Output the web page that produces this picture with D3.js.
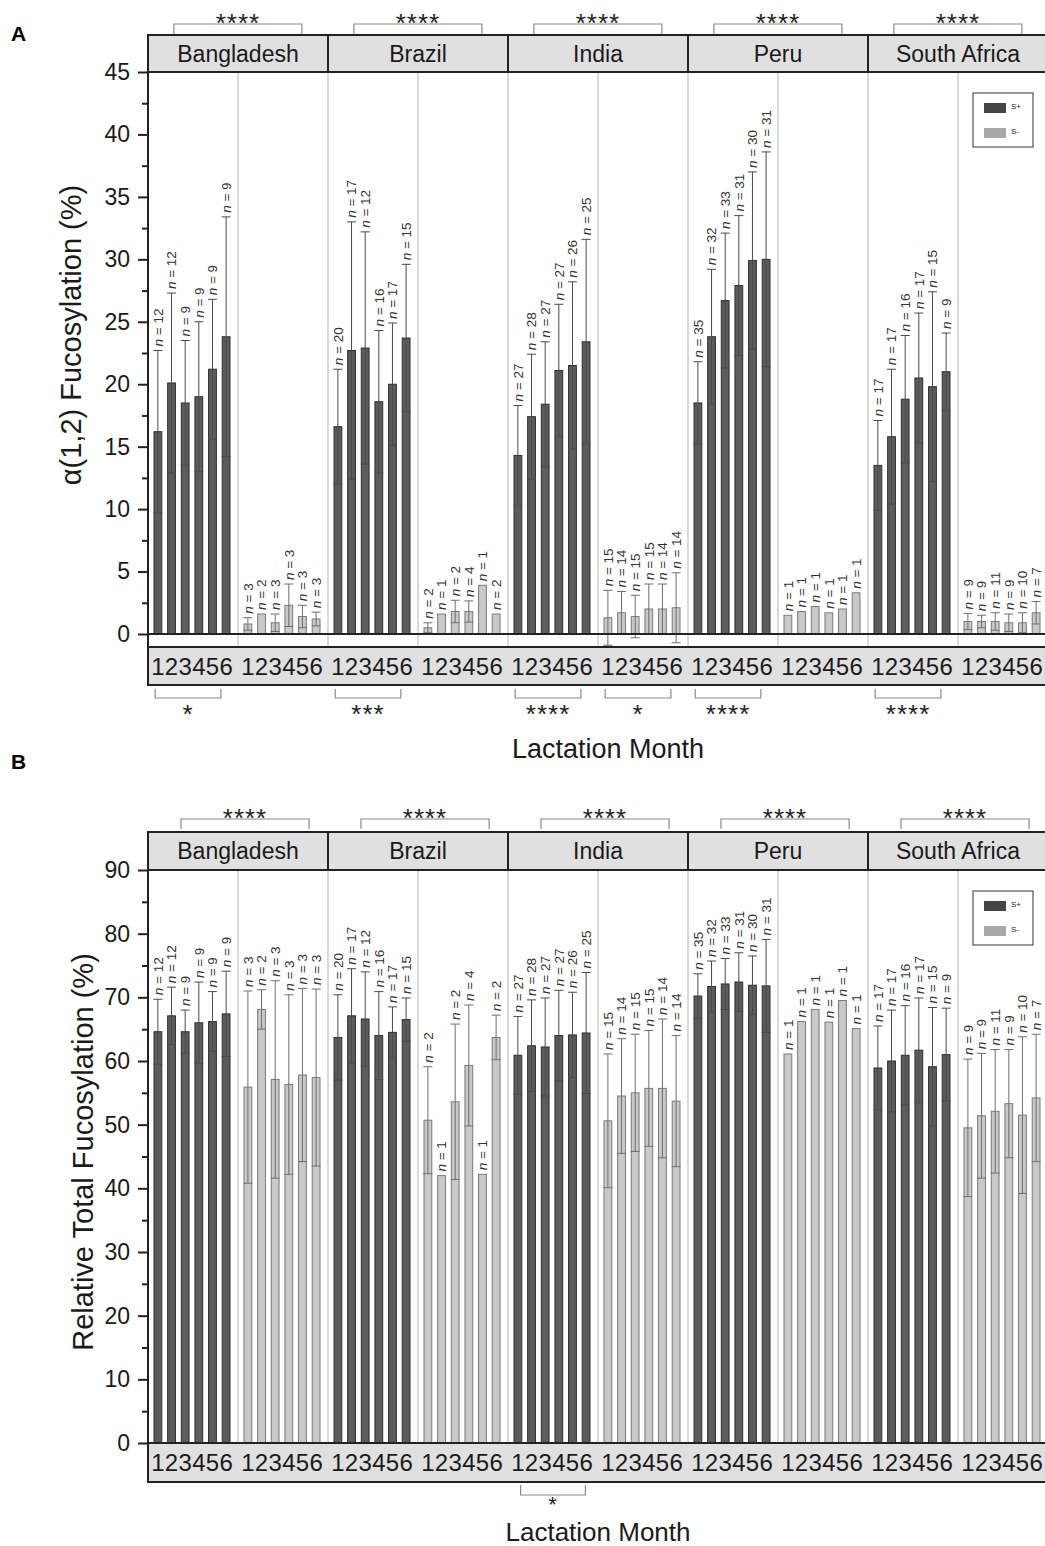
<!DOCTYPE html>
<html>
<head>
<meta charset="utf-8">
<script src="https://cdn.jsdelivr.net/npm/d3@7"></script>
<style>
  body { margin: 0; background: #fff; }
  svg { font-family: "Liberation Sans", Arial, sans-serif; display: block; }
</style>
</head>
<body>
<svg id="chart" width="1045" height="1546"></svg>
<script>
// categories
const countries = ["Bangladesh", "Brazil", "India", "Peru", "South Africa"];
const groups = ["S+", "S-"];
const months = ["1", "2", "3", "4", "5", "6"];

// sample sizes per country (rows) and lactation month (cols), same in both panels
const nPos = [[12, 12, 9, 9, 9, 9], [20, 17, 12, 16, 17, 15], [27, 28, 27, 27, 26, 25], [35, 32, 33, 31, 30, 31], [17, 17, 16, 17, 15, 9]];
const nNeg = [[3, 2, 3, 3, 3, 3], [2, 1, 2, 4, 1, 2], [15, 14, 15, 15, 14, 14], [1, 1, 1, 1, 1, 1], [9, 9, 11, 9, 10, 7]];

// panel A: alpha(1,2) fucosylation (%), mean and SD
const a12PosMean = [[16.2, 20.1, 18.5, 19.0, 21.2, 23.8], [16.6, 22.7, 22.9, 18.6, 20.0, 23.7], [14.3, 17.4, 18.4, 21.1, 21.5, 23.4], [18.5, 23.8, 26.7, 27.9, 29.9, 30.0], [13.5, 15.8, 18.8, 20.5, 19.8, 21.0]];
const a12PosSd = [[6.5, 7.2, 5.0, 6.0, 5.6, 9.6], [4.6, 10.3, 9.3, 5.7, 4.9, 5.9], [4.0, 5.0, 5.0, 5.3, 6.7, 8.2], [3.3, 5.4, 5.4, 5.6, 7.1, 8.6], [3.6, 5.4, 5.1, 5.2, 7.6, 3.1]];
const a12NegMean = [[0.8, 1.6, 0.9, 2.3, 1.4, 1.2], [0.5, 1.6, 1.8, 1.8, 3.9, 1.6], [1.3, 1.7, 1.4, 2.0, 2.0, 2.1], [1.5, 1.8, 2.2, 1.7, 2.0, 3.3], [1.0, 1.0, 1.0, 0.9, 0.9, 1.7]];
const a12NegSd = [[0.5, 0, 0.7, 1.7, 0.9, 0.55], [0.4, 0, 0.9, 0.85, 0, 0], [2.2, 1.7, 1.7, 2.0, 2.0, 2.8], [0, 0, 0, 0, 0, 0], [0.65, 0.5, 0.7, 0.7, 0.8, 0.9]];

// panel B: relative total fucosylation (%), mean and SD
const totPosMean = [[64.6, 67.1, 64.6, 66.0, 66.2, 67.4], [63.7, 67.1, 66.6, 64.0, 64.5, 66.5], [60.9, 62.4, 62.2, 64.0, 64.1, 64.4], [70.2, 71.7, 72.1, 72.4, 71.9, 71.8], [58.9, 60.0, 60.9, 61.7, 59.1, 61.0]];
const totPosSd = [[5.1, 4.5, 3.4, 6.4, 4.7, 6.7], [6.7, 7.4, 7.4, 6.9, 4.0, 3.4], [6.1, 7.2, 7.7, 7.1, 6.7, 9.5], [3.5, 4.0, 4.0, 4.6, 4.6, 7.3], [6.6, 8.0, 7.8, 8.2, 9.3, 7.3]];
const totNegMean = [[55.9, 68.1, 57.1, 56.3, 57.8, 57.4], [50.7, 42.0, 53.6, 59.3, 42.2, 63.7], [50.6, 54.5, 55.0, 55.7, 55.7, 53.7], [61.1, 66.2, 68.1, 66.1, 69.5, 65.1], [49.5, 51.4, 52.1, 53.3, 51.5, 54.2]];
const totNegSd = [[15.1, 3.1, 15.5, 14.1, 13.6, 13.9], [8.4, 0, 12.2, 9.5, 0, 3.5], [10.5, 9.0, 9.2, 9.1, 10.9, 10.3], [0, 0, 0, 0, 0, 0], [10.8, 9.8, 9.7, 8.5, 12.3, 10.0]];

// significance: S+ vs S- per country (top), trend over months (bottom)
const a12TopStars = ["****", "****", "****", "****", "****"];
const a12TrendCountry = ["Bangladesh", "Brazil", "India", "India", "Peru", "South Africa"];
const a12TrendGroup = ["S+", "S+", "S+", "S-", "S+", "S+"];
const a12TrendStars = ["*", "***", "****", "*", "****", "****"];
const totTopStars = ["****", "****", "****", "****", "****"];
const totTrendCountry = ["India"];
const totTrendGroup = ["S+"];
const totTrendStars = ["*"];

const svg = d3.select("#chart");
const dark = "#222";
const colors = { "S+": "#5c5c5c", "S-": "#c9c9c9" };
const strokes = { "S+": "#2e2e2e", "S-": "#7a7a7a" };
const errColors = { "S+": "#4a4a4a", "S-": "#6e6e6e" };

// x scales shared by both panels
const xCountry = d3.scaleBand().domain(countries).range([148, 1048]);
const xGroup = d3.scaleBand().domain(groups).range([0, xCountry.bandwidth()]);
const xMonth = d3.scaleBand().domain(months).range([6, 82]).paddingInner(0.43).paddingOuter(0);

function drawPanel(p) {
  const g = svg.append("g");
  const y = d3.scaleLinear().domain([0, p.yMax]).range([p.zeroY, p.plotTop]);
  const x0 = xCountry.range()[0], x1 = xCountry.range()[1];

  const series = [
    { group: "S+", mean: p.posMean, sd: p.posSd, n: nPos },
    { group: "S-", mean: p.negMean, sd: p.negSd, n: nNeg }
  ];
  const rows = [];
  countries.forEach((c, ci) => series.forEach(s => months.forEach((m, mi) => {
    rows.push({ country: c, group: s.group, month: m, mean: s.mean[ci][mi], sd: s.sd[ci][mi], n: s.n[ci][mi] });
  })));
  const bx = d => xCountry(d.country) + xGroup(d.group) + xMonth(d.month);
  const cx = d => bx(d) + xMonth.bandwidth() / 2;

  // light dividers between groups
  const cells = [];
  countries.forEach(c => groups.forEach(gr => cells.push({ country: c, group: gr })));
  g.append("g").selectAll("line")
    .data(cells)
    .join("line")
    .attr("x1", d => xCountry(d.country) + xGroup(d.group) + xGroup.bandwidth())
    .attr("x2", d => xCountry(d.country) + xGroup(d.group) + xGroup.bandwidth())
    .attr("y1", p.plotTop)
    .attr("y2", p.bandTop)
    .attr("stroke", "#b4b4b4")
    .attr("stroke-width", 1);

  // bars
  g.append("g").selectAll("rect")
    .data(rows)
    .join("rect")
    .attr("x", bx)
    .attr("width", xMonth.bandwidth())
    .attr("y", d => y(d.mean))
    .attr("height", d => y(0) - y(d.mean))
    .attr("fill", d => colors[d.group])
    .attr("stroke", d => strokes[d.group])
    .attr("stroke-width", 1);

  // error bars (mean ± SD)
  const withErr = rows.filter(d => d.sd > 0);
  const eb = g.append("g").selectAll("g")
    .data(withErr)
    .join("g")
    .attr("stroke", d => errColors[d.group])
    .attr("stroke-width", 1);
  eb.append("line")
    .attr("x1", cx).attr("x2", cx)
    .attr("y1", d => y(d.mean - d.sd))
    .attr("y2", d => y(d.mean + d.sd));
  eb.append("line")
    .attr("x1", d => cx(d) - 4.5).attr("x2", d => cx(d) + 4.5)
    .attr("y1", d => y(d.mean + d.sd)).attr("y2", d => y(d.mean + d.sd));
  eb.append("line")
    .attr("x1", d => cx(d) - 4.5).attr("x2", d => cx(d) + 4.5)
    .attr("y1", d => y(d.mean - d.sd)).attr("y2", d => y(d.mean - d.sd));

  // n labels
  const nl = g.append("g").selectAll("text")
    .data(rows)
    .join("text")
    .attr("transform", d => `translate(${cx(d)},${y(d.mean + d.sd) - 4}) rotate(-90)`)
    .attr("dy", "0.36em")
    .attr("font-size", 13.5)
    .attr("fill", "#333");
  nl.append("tspan").attr("font-style", "italic").text("n");
  nl.append("tspan").text(d => ` = ${d.n}`);

  // zero line
  g.append("line")
    .attr("x1", x0).attr("x2", x1)
    .attr("y1", y(0)).attr("y2", y(0))
    .attr("stroke", dark).attr("stroke-width", 2);

  // country header strip
  g.append("g").selectAll("rect")
    .data(countries)
    .join("rect")
    .attr("x", d => xCountry(d))
    .attr("width", xCountry.bandwidth())
    .attr("y", p.headerTop)
    .attr("height", p.plotTop - p.headerTop)
    .attr("fill", "#e0e0e0")
    .attr("stroke", dark)
    .attr("stroke-width", 2);
  g.append("g").selectAll("text")
    .data(countries)
    .join("text")
    .attr("x", d => xCountry(d) + xCountry.bandwidth() / 2)
    .attr("y", (p.headerTop + p.plotTop) / 2 + 8)
    .attr("text-anchor", "middle")
    .attr("font-size", 23)
    .attr("fill", "#1a1a1a")
    .text(d => d);

  // month tick band
  g.append("rect")
    .attr("x", x0).attr("width", x1 - x0)
    .attr("y", p.bandTop).attr("height", p.bandBottom - p.bandTop)
    .attr("fill", "#e0e0e0")
    .attr("stroke", dark)
    .attr("stroke-width", 2);
  g.append("g").selectAll("text")
    .data(rows)
    .join("text")
    .attr("x", cx)
    .attr("y", (p.bandTop + p.bandBottom) / 2 + 8.5)
    .attr("text-anchor", "middle")
    .attr("font-size", 24)
    .attr("fill", "#1a1a1a")
    .text(d => d.month);

  // y axis
  const majors = d3.range(0, p.yMax + 0.001, p.step);
  const minors = d3.range(p.step / 2, p.yMax, p.step);
  const ax = g.append("g")
    .attr("transform", `translate(${x0},0)`)
    .call(d3.axisLeft(y).tickValues(majors).tickSize(10).tickPadding(8).tickFormat(d3.format("d")));
  ax.select(".domain").remove();
  ax.selectAll("line").attr("stroke", dark).attr("stroke-width", 2);
  ax.selectAll("text").attr("font-size", 23).attr("fill", "#1a1a1a").attr("font-family", null);
  const axm = g.append("g")
    .attr("transform", `translate(${x0},0)`)
    .call(d3.axisLeft(y).tickValues(minors).tickSize(6).tickFormat(""));
  axm.select(".domain").remove();
  axm.selectAll("line").attr("stroke", dark).attr("stroke-width", 2);
  g.append("line")
    .attr("x1", x0).attr("x2", x0)
    .attr("y1", p.plotTop).attr("y2", p.bandBottom)
    .attr("stroke", dark).attr("stroke-width", 2);

  // axis titles and panel letter
  g.append("text")
    .attr("transform", `translate(${p.titleX},${p.titleY}) rotate(-90)`)
    .attr("text-anchor", "middle")
    .attr("font-size", 29)
    .attr("fill", "#1a1a1a")
    .text(p.title);
  g.append("text")
    .attr("x", p.xTitleX).attr("y", p.xTitleY)
    .attr("text-anchor", "middle")
    .attr("font-size", p.xTitleSize)
    .attr("fill", "#1a1a1a")
    .text("Lactation Month");
  g.append("text")
    .attr("x", 11).attr("y", p.letterY)
    .attr("font-size", 21)
    .attr("font-weight", "bold")
    .text(p.letter);

  // top brackets: S+ vs S-
  const cw = xCountry.bandwidth();
  const tb = g.append("g").selectAll("g")
    .data(countries.map((c, i) => ({ country: c, stars: p.topStars[i] })))
    .join("g");
  tb.append("path")
    .attr("d", d => {
      const a = xCountry(d.country) + cw * p.topFrac[0], b = xCountry(d.country) + cw * p.topFrac[1];
      return `M${a},${p.topBracket[1]}V${p.topBracket[0]}H${b}V${p.topBracket[1]}`;
    })
    .attr("fill", "none").attr("stroke", "#8a8a8a").attr("stroke-width", 1.2);
  tb.append("text")
    .attr("x", d => xCountry(d.country) + cw * (p.topFrac[0] + p.topFrac[1]) / 2)
    .attr("y", p.topBracket[0] + 8)
    .attr("text-anchor", "middle")
    .attr("font-size", 26)
    .attr("letter-spacing", 1)
    .attr("fill", "#222")
    .text(d => d.stars);

  // bottom brackets: month trend within a group
  const gw = xGroup.bandwidth();
  const bb = g.append("g").selectAll("g")
    .data(p.trendStars.map((s, i) => ({ country: p.trendCountry[i], group: p.trendGroup[i], stars: s })))
    .join("g");
  bb.append("path")
    .attr("d", d => {
      const base = xCountry(d.country) + xGroup(d.group);
      const a = base + gw * p.botFrac[0], b = base + gw * p.botFrac[1];
      return `M${a},${p.botBracket[0]}V${p.botBracket[1]}H${b}V${p.botBracket[0]}`;
    })
    .attr("fill", "none").attr("stroke", "#8a8a8a").attr("stroke-width", 1.2);
  bb.append("text")
    .attr("x", d => xCountry(d.country) + xGroup(d.group) + gw * (p.botFrac[0] + p.botFrac[1]) / 2)
    .attr("y", p.botBracket[1] + p.botStarDy)
    .attr("text-anchor", "middle")
    .attr("font-size", p.botStarSize)
    .attr("letter-spacing", 1)
    .attr("fill", "#222")
    .text(d => d.stars);

  // legend
  const lx = 973, ly = p.plotTop + 21;
  const lg = g.append("g").attr("transform", `translate(${lx},${ly})`);
  lg.append("rect").attr("width", 60).attr("height", 54)
    .attr("fill", "#fff").attr("stroke", "#333").attr("stroke-width", 1);
  groups.forEach((gr, i) => {
    lg.append("rect").attr("x", 11).attr("y", 10 + i * 25).attr("width", 22).attr("height", 10)
      .attr("fill", gr === "S+" ? "#444" : "#a9a9a9");
    lg.append("text").attr("x", 38).attr("y", 16 + i * 25)
      .attr("font-size", 8).attr("fill", "#222").text(gr);
  });
}

drawPanel({
  letter: "A", letterY: 41,
  headerTop: 35, plotTop: 72, zeroY: 634, bandTop: 647, bandBottom: 685,
  yMax: 45, step: 5,
  posMean: a12PosMean, posSd: a12PosSd, negMean: a12NegMean, negSd: a12NegSd,
  title: "α(1,2) Fucosylation (%)", titleX: 81, titleY: 335,
  xTitleX: 608, xTitleY: 758, xTitleSize: 27,
  topStars: a12TopStars, topFrac: [0.144, 0.855], topBracket: [24, 34],
  trendCountry: a12TrendCountry, trendGroup: a12TrendGroup, trendStars: a12TrendStars,
  botFrac: [0.08, 0.81], botBracket: [689, 698], botStarDy: 25, botStarSize: 26
});

drawPanel({
  letter: "B", letterY: 769,
  headerTop: 832, plotTop: 870, zeroY: 1443, bandTop: 1443, bandBottom: 1482,
  yMax: 90, step: 10,
  posMean: totPosMean, posSd: totPosSd, negMean: totNegMean, negSd: totNegSd,
  title: "Relative Total Fucosylation (%)", titleX: 93, titleY: 1152,
  xTitleX: 598, xTitleY: 1541, xTitleSize: 26,
  topStars: totTopStars, topFrac: [0.183, 0.895], topBracket: [819, 829],
  trendCountry: totTrendCountry, trendGroup: totTrendGroup, trendStars: totTrendStars,
  botFrac: [0.14, 0.86], botBracket: [1485, 1495], botStarDy: 17, botStarSize: 22
});
</script>
</body>
</html>
